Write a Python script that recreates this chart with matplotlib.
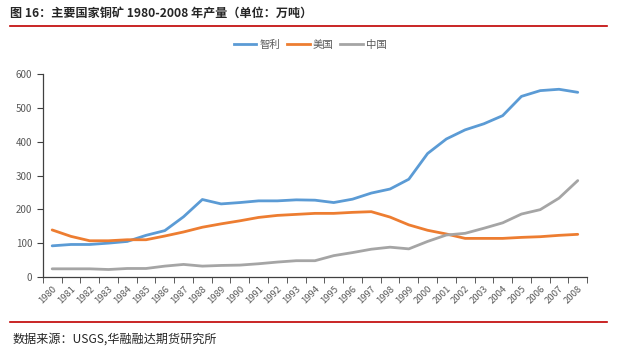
import matplotlib.pyplot as plt
from matplotlib.lines import Line2D
import numpy as np

plt.rcParams['font.family'] = ['Noto Sans CJK SC', 'DejaVu Sans']

years = [str(y) for y in range(1980, 2009)]
chile = [92, 96, 96, 100, 105, 123, 137, 178, 229, 216, 220, 225, 225, 228, 227,
         220, 230, 248, 260, 289, 365, 408, 435, 453, 477, 534, 551, 555, 546]
usa = [139, 120, 107, 107, 110, 110, 121, 133, 147, 157, 166, 176, 182, 185, 188,
       188, 191, 193, 177, 154, 138, 127, 114, 114, 114, 117, 119, 123, 126]
china = [24, 24, 24, 22, 25, 25, 32, 37, 32, 34, 35, 39, 44, 48, 48,
         63, 72, 82, 88, 83, 105, 124, 129, 144, 160, 186, 199, 233, 285]
names = ['智利', '美国', '中国']
colors = ['#5B9BD5', '#ED7D31', '#A5A5A5']

fig = plt.figure(figsize=(6.2, 3.51), dpi=100)
ax = fig.add_axes([0.069, 0.211, 0.878, 0.578])

x = np.arange(len(years))
for vals, c in zip([chile, usa, china], colors):
    ax.plot(x, vals, color=c, linewidth=2.0, solid_capstyle='round')

ax.set_xlim(-0.5, len(years) - 0.5)
ax.set_ylim(0, 600)
ax.set_yticks(range(0, 601, 100))
ax.set_xticks(x)
ax.set_xticklabels(years, rotation=45, ha='right', rotation_mode='anchor',
                   fontsize=6.8, color='#595959')
ax.set_xticks(np.arange(-0.5, len(years)), minor=True)
ax.tick_params(axis='x', which='major', length=0, pad=5)
ax.tick_params(axis='x', which='minor', length=4, color='#404040', direction='out')
ax.tick_params(axis='y', length=4, color='#404040', labelsize=7, labelcolor='#595959')
for s in ['top', 'right']:
    ax.spines[s].set_visible(False)
for s in ['left', 'bottom']:
    ax.spines[s].set_color('#404040')
    ax.spines[s].set_linewidth(0.9)

handles = [Line2D([], [], color=c, linewidth=2.0) for c in colors]
fig.legend(handles, names, loc='center', bbox_to_anchor=(0.5, 1 - 45 / 351), ncol=3,
           frameon=False, fontsize=7.5, handlelength=2.2, handletextpad=0.3,
           columnspacing=0.6, labelcolor='#595959')

fig.text(0.016, 1 - 14 / 351, '图 16：主要国家铜矿 1980-2008 年产量（单位：万吨）', fontsize=8.7,
         fontweight='bold', va='center', ha='left', color='#262626')
fig.add_artist(Line2D([0.016, 0.979], [1 - 25.5 / 351] * 2, color='#C00000', linewidth=1.2))
fig.add_artist(Line2D([0.016, 0.979], [1 - 322 / 351] * 2, color='#C00000', linewidth=1.2))
fig.text(0.021, 1 - 339 / 351, '数据来源：USGS,华融融达期货研究所', fontsize=8.7,
         va='center', ha='left', color='#262626')

fig.savefig('out.png', dpi=100)
